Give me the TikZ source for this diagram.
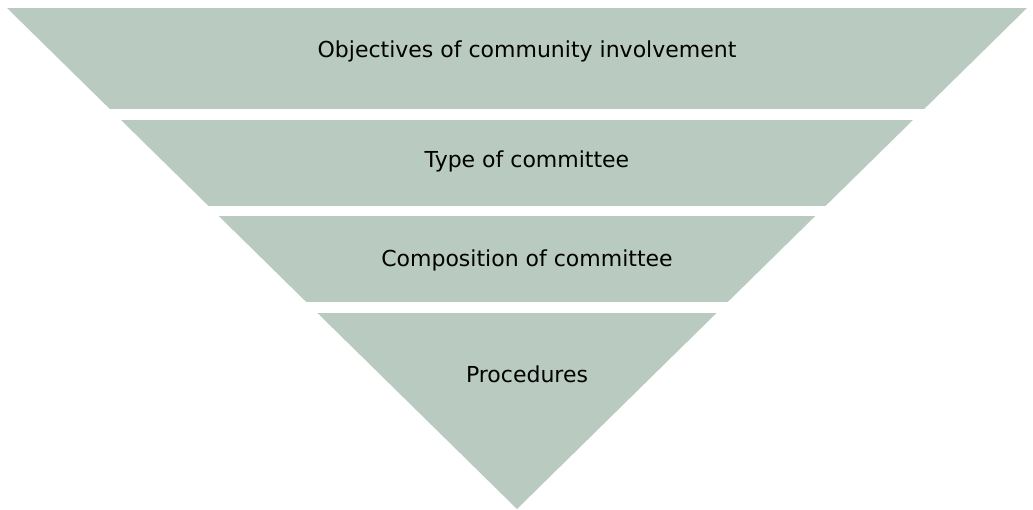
\documentclass[tikz,border=0pt]{standalone}
\usepackage{fontspec}
\setmainfont{DejaVu Sans}
\definecolor{bandfill}{RGB}{185,203,192}
\begin{document}
\begin{tikzpicture}[x=1pt,y=-1pt,
  lbl/.style={font=\fontsize{22}{26}\selectfont, text=black, anchor=base, inner sep=0pt},
  bandstyle/.style={fill=bandfill}]
\useasboundingbox (0,0) rectangle (1033,510);
\coordinate (TL) at (7,8);
\coordinate (TR) at (1027,8);
\coordinate (A) at (517,509);
\begin{scope}
  \clip (TL) -- (TR) -- (A) -- cycle;
  \fill[bandstyle] (0,8) rectangle (1033,109);
  \fill[bandstyle] (0,120) rectangle (1033,206);
  \fill[bandstyle] (0,216) rectangle (1033,302);
  \fill[bandstyle] (0,313) rectangle (1033,512);
\end{scope}
\node[lbl] (t1) at (527,58) {Objectives of community involvement};
\node[lbl] (t2) at (527,168) {Type of committee};
\node[lbl] (t3) at (527,267) {Composition of committee};
\node[lbl] (t4) at (527,382) {Procedures};
\end{tikzpicture}
\end{document}
